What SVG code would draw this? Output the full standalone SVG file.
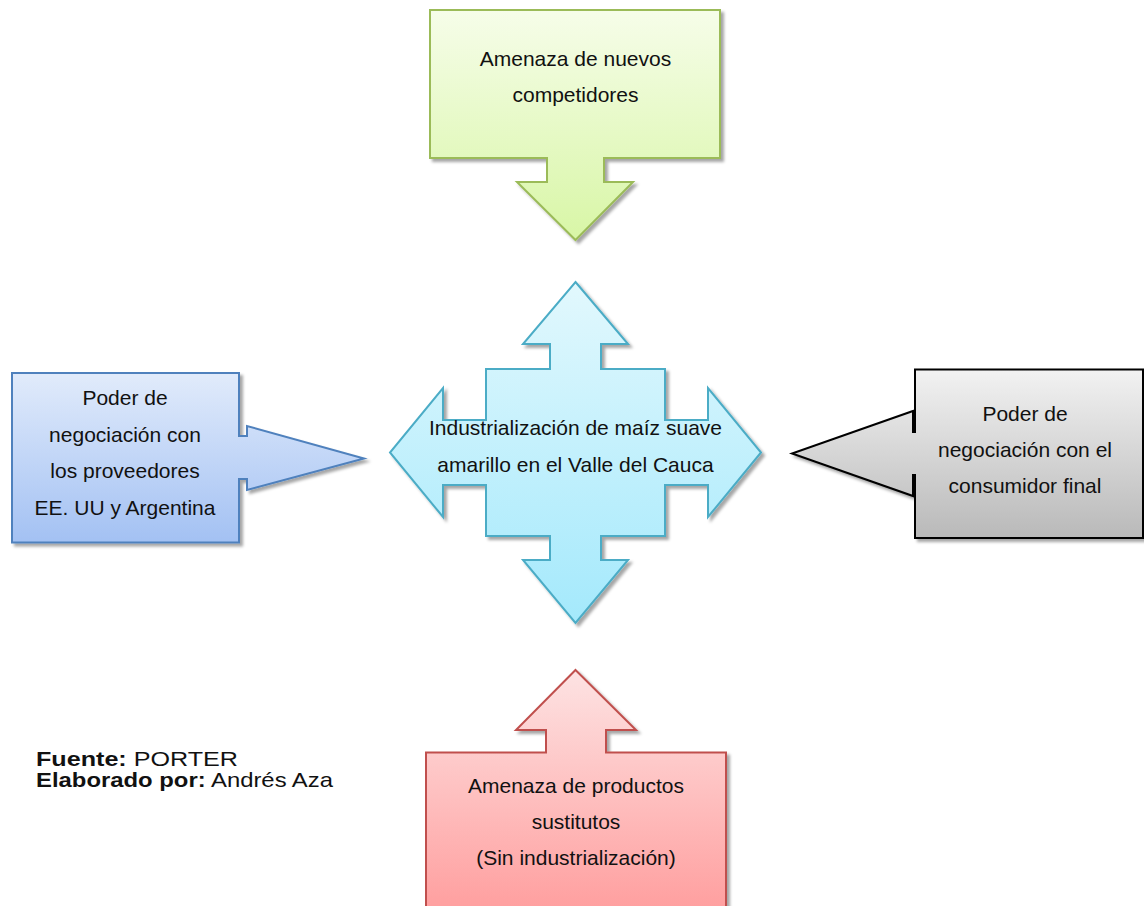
<svg xmlns="http://www.w3.org/2000/svg" width="1144" height="906" viewBox="0 0 1144 906">
<defs>
<linearGradient id="gGreen" x1="0" y1="0" x2="0" y2="1"><stop offset="0" stop-color="#f6fde9"/><stop offset="1" stop-color="#d8f6a6"/></linearGradient>
<linearGradient id="gBlue" x1="0" y1="0" x2="0" y2="1"><stop offset="0" stop-color="#e1ebfb"/><stop offset="1" stop-color="#a3c1f3"/></linearGradient>
<linearGradient id="gGray" x1="0" y1="0" x2="0" y2="1"><stop offset="0" stop-color="#f2f2f2"/><stop offset="1" stop-color="#b9b9b9"/></linearGradient>
<linearGradient id="gRed" x1="0" y1="0" x2="0" y2="1"><stop offset="0" stop-color="#fde3e3"/><stop offset="1" stop-color="#ff9c9c"/></linearGradient>
<linearGradient id="gCyan" x1="0" y1="0" x2="0" y2="1"><stop offset="0" stop-color="#e2f8fd"/><stop offset="1" stop-color="#a4e9fc"/></linearGradient>
<filter id="sh" x="-10%" y="-10%" width="130%" height="130%"><feDropShadow dx="3" dy="3" stdDeviation="1.5" flood-color="#000" flood-opacity="0.35"/></filter>
</defs>
<style>
.t{font-family:"Liberation Sans",Arial,sans-serif;font-size:21px;fill:#111;text-anchor:middle}
.s{font-family:"Liberation Sans",Arial,sans-serif;font-size:21px;fill:#111}
.b{font-weight:bold}
.shape{stroke-width:2;stroke-linejoin:miter;filter:url(#sh)}
</style>
<rect width="1144" height="906" fill="#fff"/>
<g id="connectors"/>
<g id="nuevos">
<path class="shape" fill="url(#gGreen)" stroke="#9bbb59" d="M430,10 H720 V158 H604 V182 H633 L575.5,240 L517,182 H547 V158 H430 Z"/>
<text class="t" x="575.5" y="66">Amenaza de nuevos</text>
<text class="t" x="575.5" y="102">competidores</text>
</g>
<g id="centro">
<path class="shape" fill="url(#gCyan)" stroke="#4bacc6" d="M575.5,282 L628,344 H601 V369 H665 V420 H708 V388 L761,452.5 L708,517 V485 H665 V536 H601 V560 H628 L575.5,623 L523,560 H550 V536 H486 V485 H443 V517 L390,452.5 L443,388 V420 H486 V369 H550 V344 H523 Z"/>
<text class="t" x="575.5" y="435">Industrialización de maíz suave</text>
<text class="t" x="575.5" y="472">amarillo en el Valle del Cauca</text>
</g>
<g id="proveedores">
<path class="shape" fill="url(#gBlue)" stroke="#4f81bd" d="M12,373 H239 V436 H247 V426 L364,458.5 L247,490 V479 H239 V542.5 H12 Z"/>
<text class="t" x="125" y="405">Poder de</text>
<text class="t" x="125" y="442">negociación con</text>
<text class="t" x="125" y="478">los proveedores</text>
<text class="t" x="125" y="515">EE. UU y Argentina</text>
</g>
<g id="consumidor">
<path class="shape" fill="url(#gGray)" stroke="#000" d="M915,369.5 H1143 V538 H915 V475 H913 V496 L792,453.5 L913,411 V432 H915 Z"/>
<text class="t" x="1025" y="421">Poder de</text>
<text class="t" x="1025" y="457">negociación con el</text>
<text class="t" x="1025" y="493">consumidor final</text>
</g>
<g id="sustitutos">
<path class="shape" fill="url(#gRed)" stroke="#c0504d" d="M575.5,670 L636,730 H606 V752.5 H726 V920 H426 V752.5 H546 V730 H516 Z"/>
<text class="t" x="576" y="793">Amenaza de productos</text>
<text class="t" x="576" y="829">sustitutos</text>
<text class="t" x="576" y="865">(Sin industrialización)</text>
</g>
<g id="fuente">
<text class="s" x="36" y="766" textLength="202" lengthAdjust="spacingAndGlyphs"><tspan class="b">Fuente:</tspan> PORTER</text>
<text class="s" x="36" y="787" textLength="297" lengthAdjust="spacingAndGlyphs"><tspan class="b">Elaborado por:</tspan> Andrés Aza</text>
</g>
</svg>
